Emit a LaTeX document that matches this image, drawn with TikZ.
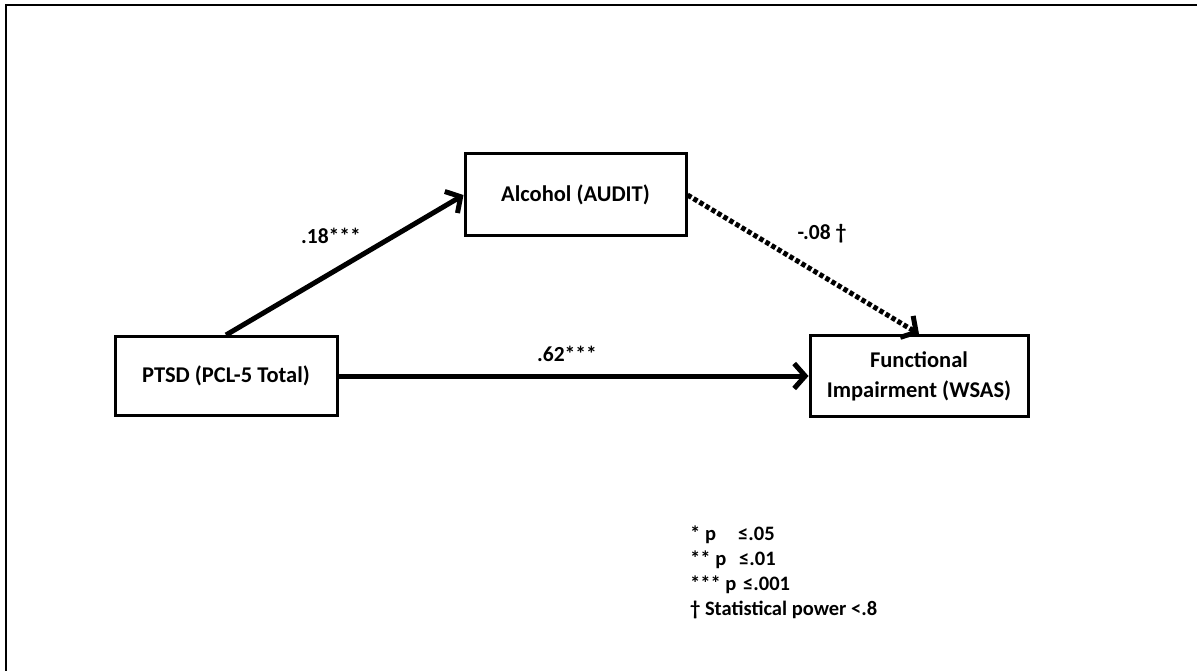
\documentclass[tikz,border=0pt]{standalone}
\usepackage{fontspec}
\setmainfont{Carlito}
\usetikzlibrary{arrows.meta}
\begin{document}
\begin{tikzpicture}[x=1pt,y=-1pt,
  var/.style={draw,line width=3pt,minimum width=#1,inner sep=0pt,font=\fontsize{22.5}{30}\selectfont\bfseries,align=center},
  path/.style={line width=5pt,-{Straight Barb[length=11pt,width=25pt,line width=5pt]}},
  dotpath/.style={path,dash pattern=on 4.5pt off 2.5pt},
  coef/.style={font=\fontsize{21.5}{25}\selectfont\bfseries},
  legend/.style={anchor=base west,inner sep=0pt,font=\fontsize{20.5}{24}\selectfont\bfseries}]
\useasboundingbox (0,0) rectangle (1197,671);
% open frame: top and left edges only
\draw[line width=2.2pt] (6,671) coordinate (fl) -- (6,5) coordinate (fc) -- (1197,5) coordinate (fr);

% variables
\node[var=221pt,minimum height=82pt] (A) at (575.5,195) {Alcohol (AUDIT)};
\node[var=222pt,minimum height=79pt] (P) at (226,376) {PTSD (PCL-5 Total)};
\node[var=218pt,minimum height=81pt] (F) at (919,376) {Functional\\Impairment (WSAS)};

% paths
\draw[path] (P.north) -- (A.west);
\draw[path] (P.east) -- (F.west);
\draw[dotpath] (A.east) -- (F.north);

% coefficients
\node[coef] (c1) at (331,236) {.18***};
\node[coef] (c2) at (822,234) {-.08 †};
\node[coef] (c3) at (567,354) {.62***};

% significance legend
\node[legend] (l1) at (690,540) {* p};
\node[legend] (l1b) at (738,540) {≤.05};
\node[legend] (l2) at (690,565) {** p};
\node[legend] (l2b) at (739,565) {≤.01};
\node[legend] (l3) at (690,590) {*** p};
\node[legend] (l3b) at (743,590) {≤.001};
\node[legend] (l4) at (690,615) {† Statistical power <.8};
\end{tikzpicture}
\end{document}
